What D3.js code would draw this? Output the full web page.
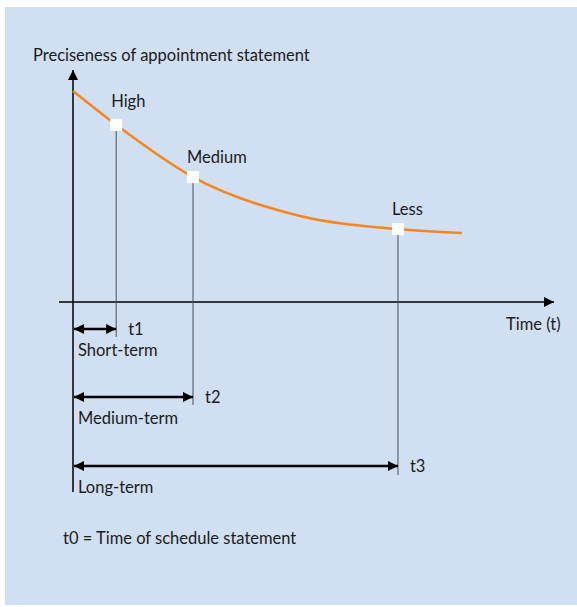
<!DOCTYPE html>
<html>
<head>
<meta charset="utf-8">
<script src="https://cdn.jsdelivr.net/npm/d3@7"></script>
<style>
  html, body { margin: 0; padding: 0; background: #ffffff; }
  svg text { font-family: Lato, "Noto Sans", sans-serif; fill: #1c1c1c; }
</style>
</head>
<body>
<svg id="chart" width="577" height="607"></svg>
<script>
// Decay of preciseness over time (arbitrary units, t0 = 0)
const curveT     = [0, 9, 25, 47.3, 67.7, 81];
const curveValue = [91.7, 77, 54.3, 37.4, 31.7, 30];

// Marked points on the curve
const levelNames = ["High", "Medium", "Less"];
const levelT     = [9, 25, 67.7];
const levelValue = [77, 54.3, 31.7];

// Time horizons measured from t0
const horizonNames = ["Short-term", "Medium-term", "Long-term"];
const horizonTicks = ["t1", "t2", "t3"];

const yTitle = "Preciseness of appointment statement";
const xTitle = "Time (t)";
const footnote = "t0 = Time of schedule statement";

const FS = 16.5;
const svg = d3.select("#chart");

// panel background
svg.append("rect")
  .attr("x", 5).attr("y", 7).attr("width", 572).attr("height", 598)
  .attr("fill", "#d0dff1");

const x = d3.scaleLinear().domain([0, 100]).range([73, 553]);
const y = d3.scaleLinear().domain([0, 100]).range([302, 72]);

const defs = svg.append("defs");
defs.append("marker")
  .attr("id", "axisHead")
  .attr("viewBox", "0 0 10 10")
  .attr("refX", 10).attr("refY", 5)
  .attr("markerWidth", 10).attr("markerHeight", 10)
  .attr("markerUnits", "userSpaceOnUse")
  .attr("orient", "auto")
  .append("path").attr("d", "M0,0 L10,5 L0,10 Z").attr("fill", "#000");
defs.append("marker")
  .attr("id", "spanHead")
  .attr("viewBox", "0 0 10 10")
  .attr("refX", 10).attr("refY", 5)
  .attr("markerWidth", 10).attr("markerHeight", 10)
  .attr("markerUnits", "userSpaceOnUse")
  .attr("orient", "auto-start-reverse")
  .append("path").attr("d", "M0,0 L10,5 L0,10 Z").attr("fill", "#000");

// vertical axis (extends below the time axis down past the horizon arrows)
svg.append("line")
  .attr("x1", x(0)).attr("x2", x(0))
  .attr("y1", 492).attr("y2", 70)
  .attr("stroke", "#000").attr("stroke-width", 1.5)
  .attr("marker-end", "url(#axisHead)");

// time axis
svg.append("line")
  .attr("x1", 59).attr("x2", x(100) + 1)
  .attr("y1", y(0)).attr("y2", y(0))
  .attr("stroke", "#000").attr("stroke-width", 1.5)
  .attr("marker-end", "url(#axisHead)");

svg.append("text")
  .attr("x", 33).attr("y", 61)
  .attr("font-size", FS)
  .text(yTitle);

svg.append("text")
  .attr("x", 506).attr("y", 330)
  .attr("font-size", FS)
  .text(xTitle);

// horizon rows
const rowY = [329, 397, 466];
const dropEnd = [337, 405, 475];

levelT.forEach((t, i) => {
  // drop line from the curve point
  svg.append("line")
    .attr("x1", x(t)).attr("x2", x(t))
    .attr("y1", y(levelValue[i])).attr("y2", dropEnd[i])
    .attr("stroke", "#4a4f57").attr("stroke-width", 1);

  // double-headed span arrow t0 -> ti
  svg.append("line")
    .attr("x1", x(0) + 1).attr("x2", x(t))
    .attr("y1", rowY[i]).attr("y2", rowY[i])
    .attr("stroke", "#000").attr("stroke-width", 2.5)
    .attr("marker-start", "url(#spanHead)")
    .attr("marker-end", "url(#spanHead)");

  svg.append("text")
    .attr("x", x(t) + 12).attr("y", rowY[i] + 6)
    .attr("font-size", FS)
    .text(horizonTicks[i]);

  svg.append("text")
    .attr("x", 78).attr("y", rowY[i] + 27)
    .attr("font-size", FS)
    .text(horizonNames[i]);
});

// decay curve
const line = d3.line()
  .x((d, i) => x(curveT[i]))
  .y(d => y(d))
  .curve(d3.curveMonotoneX);

svg.append("path")
  .datum(curveValue)
  .attr("d", line)
  .attr("fill", "none")
  .attr("stroke", "#f5861f")
  .attr("stroke-width", 2.5);

// level markers and labels
const labelOffset = [[-5, -18], [-6, -14], [-6, -14]];
levelT.forEach((t, i) => {
  svg.append("rect")
    .attr("x", x(t) - 6).attr("y", y(levelValue[i]) - 6)
    .attr("width", 12).attr("height", 12)
    .attr("fill", "#ffffff");
  svg.append("text")
    .attr("x", x(t) + labelOffset[i][0])
    .attr("y", y(levelValue[i]) + labelOffset[i][1])
    .attr("font-size", FS)
    .text(levelNames[i]);
});

svg.append("text")
  .attr("x", 63).attr("y", 544)
  .attr("font-size", FS)
  .text(footnote);
</script>
</body>
</html>
